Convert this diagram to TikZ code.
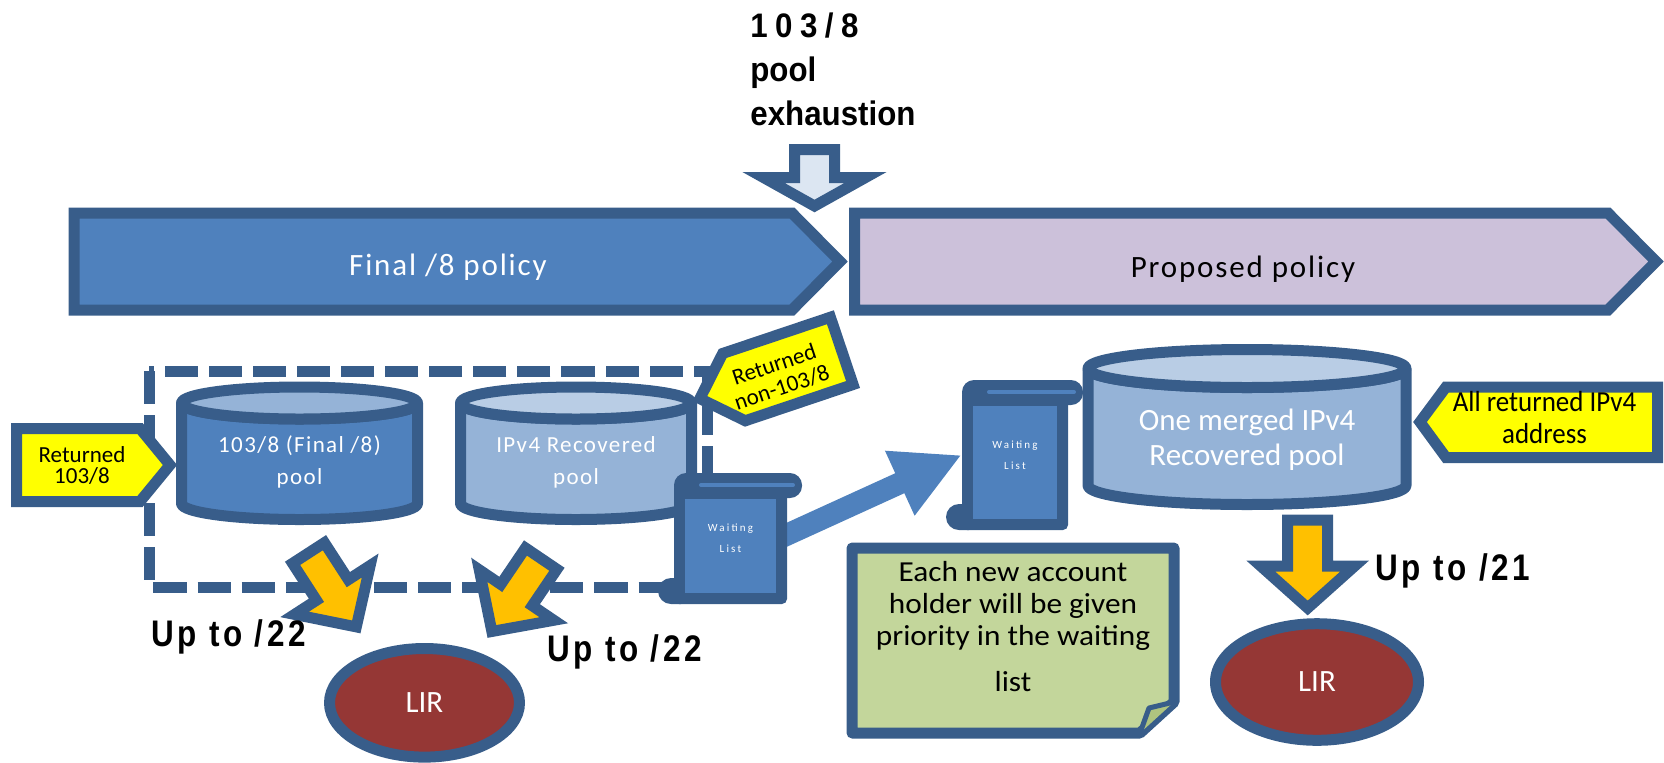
\documentclass[tikz,border=0pt]{standalone}
\usepackage{fontspec}
\setmainfont{Carlito}
\newfontfamily\spacedfont[LetterSpace=6]{Carlito}
\newfontfamily\widefont[LetterSpace=20]{Carlito}
\newfontfamily\narrowfont[FakeStretch=0.93]{Carlito}
\newfontfamily\notefont[FakeStretch=1.08]{Carlito}
\newfontfamily\gothfont[FakeStretch=0.92]{Liberation Sans}
\newfontfamily\gothwide[FakeStretch=0.85,LetterSpace=10]{Liberation Sans}
\newfontfamily\gothnum[FakeStretch=0.92,LetterSpace=22]{Liberation Sans}
\usepackage{tikz}
\usetikzlibrary{calc,shapes,arrows.meta}
\pgfdeclarelayer{background}
\pgfsetlayers{background,main}

\definecolor{edgeblue}{HTML}{385D8A}
\definecolor{midblue}{HTML}{4F81BD}
\definecolor{paleblue}{HTML}{95B3D7}
\definecolor{iceblue}{HTML}{B9CDE5}
\definecolor{mistblue}{HTML}{DCE6F2}
\definecolor{lilac}{HTML}{CCC1DA}
\definecolor{tagyellow}{HTML}{FFFF00}
\definecolor{amber}{HTML}{FFC000}
\definecolor{lirred}{HTML}{953735}
\definecolor{notegreen}{HTML}{C3D69B}
\definecolor{foldgreen}{HTML}{AFC47F}

\newlength\pix
\setlength\pix{0.02cm}

\tikzstyle{outline}=[draw=edgeblue,line width=11\pix,line join=round]
\tikzstyle{pointed}=[outline,line join=miter]
\tikzstyle{bartext}=[inner sep=0pt,anchor=base,font=\spacedfont\fontsize{31\pix}{35\pix}\selectfont]
\tikzstyle{pooltext}=[text=white,align=center,inner sep=0pt,
                      font=\spacedfont\fontsize{23\pix}{32\pix}\selectfont]
\tikzstyle{bigpooltext}=[text=white,align=center,inner sep=0pt,
                         font=\fontsize{31\pix}{35\pix}\selectfont]
\tikzstyle{tagtext}=[align=center,inner sep=0pt,font=\fontsize{23\pix}{21\pix}\selectfont]
\tikzstyle{listtext}=[text=white,align=center,inner sep=0pt,
                      font=\widefont\fontsize{11\pix}{21\pix}\selectfont]
\tikzstyle{notetext}=[align=center,inner sep=0pt,font=\notefont\fontsize{29\pix}{32\pix}\selectfont]
\tikzstyle{uptext}=[inner sep=0pt,anchor=base west,
                    font=\gothwide\bfseries\fontsize{37\pix}{40\pix}\selectfont]
\tikzstyle{gothtext}=[inner sep=0pt,align=left,anchor=north west,
                      font=\gothfont\bfseries\fontsize{34\pix}{44\pix}\selectfont]
\tikzstyle{lir}=[ellipse,outline,fill=lirred,text=white,inner sep=0pt,
                 font=\fontsize{31\pix}{35\pix}\selectfont]
\tikzstyle{bigarrow}=[midblue,line width=12.5pt,-{Triangle[length=38.7pt,width=37.6pt]}]

% block arrow: [style] x, y, angle, length, shaft half width, head half width, head length
\newcommand\fatarrow[8][]{%
  \draw[pointed,#1,shift={(#2,#3)},rotate=#4]
    (0,-#6) -- (#5-#8,-#6) -- (#5-#8,-#7) -- (#5,0) -- (#5-#8,#7) -- (#5-#8,#6) -- (0,#6) -- cycle;}
% pool: x, top y, bottom y, x radius, y radius, top fill, body fill
\newcommand\poolcyl[7]{%
  \filldraw[outline,fill=#7] (#1-#4,#2) -- (#1-#4,#3) arc (180:0:#4 and #5)
    -- (#1+#4,#2) arc (0:180:#4 and #5) -- cycle;
  \filldraw[outline,fill=#6] (#1,#2) ellipse (#4 and #5);}
% scroll: name, left, top, width, height
\newcommand\waitinglist[5]{%
  \fill[edgeblue,rounded corners=12\pix] (#2,#3) rectangle (#2+#4+15,#3+25);
  \fill[edgeblue,rounded corners=5\pix] (#2,#3+10) rectangle (#2+#4,#3+#5);
  \fill[edgeblue,rounded corners=13\pix] (#2-16,#3+#5-26) rectangle (#2+20,#3+#5);
  \fill[midblue] (#2+11,#3+26) rectangle (#2+#4-11,#3+#5-11);
  \draw[midblue,line width=4\pix,line cap=round] (#2+27,#3+12) -- (#2+#4+6,#3+12);
  \node[listtext,minimum width=#4\pix,minimum height=#5\pix] (#1) at (#2+#4/2,#3+#5/2) {Waiting\\List};}

\begin{document}
\begin{tikzpicture}[x=0.02cm,y=-0.02cm]
    \useasboundingbox (0,0) rectangle (1664,762);

    % policy bars
    \filldraw[pointed,fill=midblue] (74,213) -- (792,213) -- (840,261.5) -- (792,310) -- (74,310) -- cycle;
    \filldraw[pointed,fill=lilac] (854.5,213) -- (1608,213) -- (1656,261.5) -- (1608,310) -- (854.5,310) -- cycle;
    \node[bartext,text=white] (finalbar) at (448,275) {Final /8 policy};
    \node[bartext] (proposedbar) at (1243,277) {Proposed policy};

    \fatarrow[fill=mistblue]{814.5}{149.5}{-90}{56.5}{20}{51}{28.5}
    \node[gothtext] (exhaust) at (750,13) {{\gothnum 103/8}\\pool\\exhaustion};

    % final /8 side
    \draw[outline,line join=miter,dash pattern=on 18.8pt off 6.3pt] (149,371) rectangle (707,587);
    \poolcyl{299.5}{403}{503.5}{118}{16}{paleblue}{midblue}
    \poolcyl{576}{403}{503.5}{115.5}{16}{iceblue}{paleblue}
    \node[pooltext] (finalpool) at (299.5,462) {103/8 (Final /8)\\pool};
    \node[pooltext] (recpool) at (576,462) {IPv4 Recovered\\pool};

    \filldraw[pointed,fill=tagyellow] (16.5,428.5) -- (140,428.5) -- (170,465) -- (140,501.5) -- (16.5,501.5) -- cycle;
    \node[tagtext] (ret103) at (82,465.5) {Returned\\103/8};
    \begin{scope}[shift={(770,375)},rotate=18.6]
        \filldraw[pointed,fill=tagyellow] (-74,0) -- (-38,-35.5) -- (75.7,-35.5) -- (75.7,35.5) -- (-38,35.5) -- cycle;
    \end{scope}
    \node[tagtext,rotate=18.6,font=\fontsize{23\pix}{24\pix}\selectfont] (retnon) at (778,376) {Returned\\non-103/8};

    \waitinglist{wlist1}{674}{473}{113}{131}

    \fatarrow[fill=amber]{308.5}{553}{-57.1}{88}{19}{45}{44}
    \fatarrow[fill=amber]{541.2}{558.6}{-124.1}{88}{19}{45}{44}
    \node[uptext] (upleft) at (150.7,646) {Up to /22};
    \node[uptext] (upmid) at (546.7,661.7) {Up to /22};
    \node[lir,minimum width=190\pix,minimum height=108.6\pix] (lirleft) at (424.5,702.8) {LIR};

    % proposed side
    \poolcyl{1247}{368.5}{485.5}{159}{19}{iceblue}{paleblue}
    \node[bigpooltext] (mergedpool) at (1247,439.5) {One merged IPv4\\Recovered pool};
    \waitinglist{wlist2}{962}{380}{106}{150}

    \filldraw[pointed,fill=tagyellow] (1420,422) -- (1446,387) -- (1657.5,387) -- (1657.5,457.5) -- (1446,457.5) -- cycle;
    \node[tagtext,font=\narrowfont\fontsize{29\pix}{31.6\pix}\selectfont] (retall) at (1544.5,417.4) {All returned IPv4\\address};

    \filldraw[outline,fill=notegreen] (852,548) -- (1174,548) -- (1174,702) -- (1140,733) -- (852,733) -- cycle;
    \filldraw[outline,line width=5\pix,fill=foldgreen] (1174,702) -- (1149,708) -- (1140,733);
    \node[notetext] (notetxt) at (1013,626.5) {Each new account\\holder will be given\\priority in the waiting\\[14.5\pix]list};

    \fatarrow[fill=amber]{1307.7}{520}{-90}{88}{20}{47}{42}
    \node[uptext] (upright) at (1375,580) {Up to /21};
    \node[lir,minimum width=203\pix,minimum height=116.6\pix] (lirright) at (1317,682) {LIR};

    \begin{pgfonlayer}{background}
        \draw[bigarrow] ([xshift=-5pt]wlist1.east) -- (wlist2.west);
    \end{pgfonlayer}
\end{tikzpicture}
\end{document}
